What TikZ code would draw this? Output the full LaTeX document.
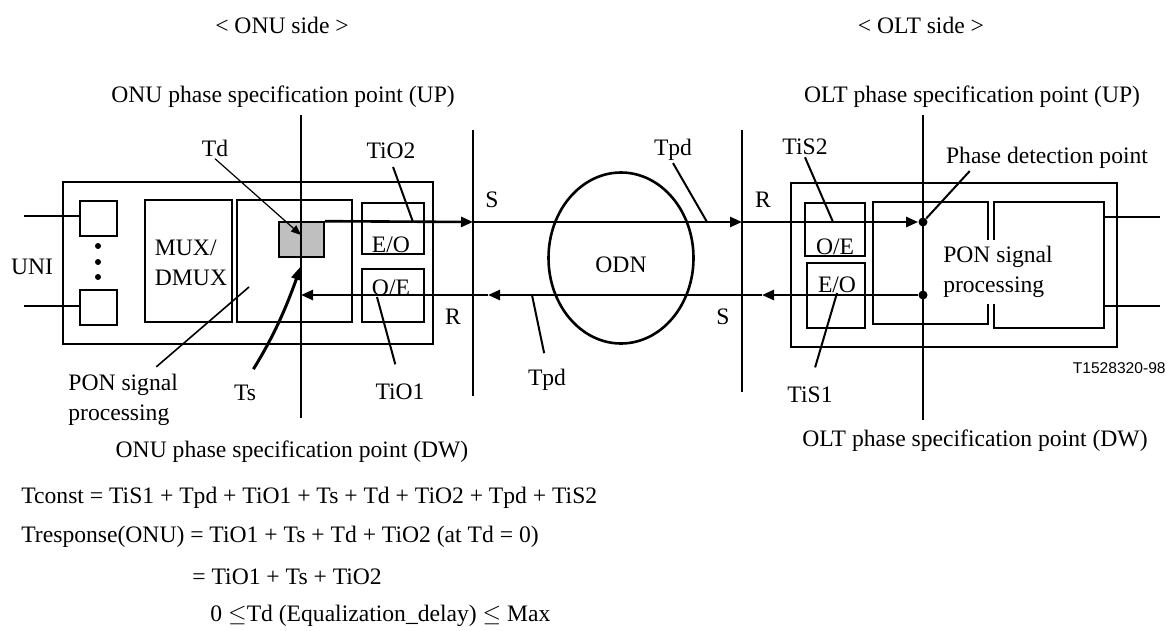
\documentclass[tikz,border=0pt]{standalone}
\usepackage{fontspec}
\setmainfont{Liberation Serif}
\setsansfont{Liberation Sans}
\usetikzlibrary{positioning,fit,calc,arrows.meta,shapes.geometric}

\begin{document}
\begin{tikzpicture}[x=0.5pt, y=-0.5pt,
  font=\fontsize{11.8}{15}\selectfont,
  box/.style={draw, line width=0.8pt, inner sep=0pt},
  axis/.style={line width=1.3pt},
  sig/.style={line width=1.3pt, -{Triangle[length=6pt,width=5pt]}},
  lead/.style={line width=1pt},
  lbl/.style={inner sep=1pt},
  dot/.style={circle, fill, inner sep=0pt, minimum size=4.5pt}
]
\useasboundingbox (0,0) rectangle (1166,631);

\node[lbl] (onuside) at (282,25) {< ONU side >};
\node[lbl] (oltside) at (921,25) {< OLT side >};
\node[lbl] (onuUP) at (283,97) {ONU phase specification point (UP)};
\node[lbl] (oltUP) at (972,97) {OLT phase specification point (UP)};
\node[lbl] (onuDW) at (292,452) {ONU phase specification point (DW)};
\node[lbl] (oltDW) at (975,441) {OLT phase specification point (DW)};

% ONU side
\node[box, fit={(63,182)(433,344)}] (onu) {};
\node[box, fit={(80,201)(117,236)}] (uniA) {};
\node[box, fit={(80,290)(117,325)}] (uniB) {};
\foreach \i/\y in {1/246,2/262,3/277}
  \node[dot, minimum size=3pt] (uniDot\i) at (98,\y) {};
\node[lbl] (uni) at (32,267) {UNI};
\coordinate (uniInA) at (24,216);
\coordinate (uniInB) at (24,306);
\draw[line width=1.1pt] (uniInA) -- (uniA.west |- uniInA);
\draw[line width=1.1pt] (uniInB) -- (uniB.west |- uniInB);
\node[box, fit={(145,200)(232,322)}] (mux) {};
\node[lbl, align=left] (muxtxt) at (191,263) {MUX/\\DMUX};
\node[box, fit={(237,200)(352,322)}] (ponU) {};
\node[box, fill=black!25, fit={(279,222)(324,257)}] (tdbox) {};
\node[box, fit={(362,203)(424,254)}] (eoU) {};
\node[box, fit={(362,269)(424,322)}] (oeU) {};
\node[lbl] (eoUtxt) at (391,245) {E/O};
\node[lbl] (oeUtxt) at (391,288) {O/E};

\coordinate (onuTop) at (301,115);
\coordinate (onuBot) at (301,418);
\draw[axis] (onuTop) -- (onuBot);

% ODN and reference points
\coordinate (sTop) at (473,130);
\coordinate (sBot) at (473,396);
\coordinate (rTop) at (742,130);
\coordinate (rBot) at (742,392);
\draw[axis] (sTop) -- (sBot);
\draw[axis] (rTop) -- (rBot);
\node[draw, ellipse, inner sep=0pt, line width=1.3pt,
      minimum width=72.5pt, minimum height=85.5pt] (odn) at (621,258) {};
\node[lbl] (odntxt) at (621,265) {ODN};
\node[lbl] (sUp) at (492,200) {S};
\node[lbl] (rUp) at (763,200) {R};
\node[lbl] (rDn) at (453,317) {R};
\node[lbl] (sDn) at (723,317) {S};

% OLT side
\node[box, fit={(791,183)(1117,347)}] (olt) {};
\node[box, fit={(805,203)(865,256)}] (oeO) {};
\node[box, fit={(807,263)(865,328)}] (eoO) {};
\node[lbl] (oeOtxt) at (835,247) {O/E};
\node[lbl] (eoOtxt) at (837,285) {E/O};
\node[box, fit={(873,202)(988,324)}] (ponL) {};
\node[box, fit={(994,202)(1104,328)}] (ponR) {};
\node[fill=white, align=left, inner sep=3pt] (ponOtxt) at (998,272) {PON signal\\processing};
\coordinate (oltOutA) at (1160,217);
\coordinate (oltOutB) at (1160,306);
\draw[line width=1.1pt] (ponR.east |- oltOutA) -- (oltOutA);
\draw[line width=1.1pt] (ponR.east |- oltOutB) -- (oltOutB);
\coordinate (oltTop) at (923,115);
\coordinate (oltBot) at (923,420);
\draw[axis] (oltTop) -- (oltBot);
\node[dot] (pdU) at (923,222) {};
\node[dot] (pdD) at (923,295) {};

% signal paths
\coordinate (sU) at (473,222);
\coordinate (rU) at (742,222);
\draw[sig] (tdbox.north east) -- (sU);
\draw[sig] (sU) -- (rU);
\draw[sig] (rU) -- (pdU);
\coordinate (aL1) at (762,295);
\coordinate (aL2) at (488,295);
\coordinate (onuD) at (301,295);
\draw[sig] (pdD) -- (aL1);
\draw[sig] (aL1) -- (aL2);
\draw[sig] (aL2) -- (onuD);

% labels and leaders
\node[lbl] (lblTd) at (215,148) {Td};
\coordinate (tdAt) at (301,235);
\draw[line width=0.6pt, -{Triangle[length=5pt,width=4pt]}] (lblTd.south) -- (tdAt);
\node[lbl] (lblTiOtwo) at (391,151) {TiO2};
\coordinate (tio2At) at (413,222);
\draw[lead, shorten <=3pt] (lblTiOtwo.south) -- (tio2At);
\node[lbl] (lblTpdUp) at (673,150) {Tpd};
\coordinate (tpdUpAt) at (707,222);
\draw[lead] (lblTpdUp.south) -- (tpdUpAt);
\node[lbl] (lblTiStwo) at (805,147) {TiS2};
\coordinate (tis2At) at (833,222);
\draw[lead] (lblTiStwo.south) -- (tis2At);
\node[lbl] (lblPhase) at (1047,158) {Phase detection point};
\draw[lead] ($(lblPhase.south west)+(26,0)$) -- (pdU);

\node[lbl, align=left, anchor=west] (lblPonU) at (66,400) {PON signal\\processing};
\coordinate (ponUAt) at (249,287);
\draw[line width=0.8pt] ($(lblPonU.north east)+(-24,-5)$) -- (ponUAt);
\node[lbl] (lblTs) at (245,393) {Ts};
\coordinate (tsAt) at (301,266);
\draw[line width=1.5pt, shorten <=8pt, -{Triangle[length=7pt,width=5pt]}]
  (lblTs.north) to[bend right=6] (tsAt);
\node[lbl] (lblTiOone) at (400,392) {TiO1};
\coordinate (tio1At) at (377,297);
\draw[lead, shorten <=9pt] (lblTiOone.north) -- (tio1At);
\node[lbl] (lblTpdDn) at (547,380) {Tpd};
\coordinate (tpdDnAt) at (532,295);
\draw[lead, shorten <=7pt] (lblTpdDn.north) -- (tpdDnAt);
\node[lbl] (lblTiSone) at (810,395) {TiS1};
\coordinate (tis1At) at (837,293);
\draw[lead, shorten <=9pt] (lblTiSone.north) -- (tis1At);

\node[font=\fontsize{7.8}{9}\sffamily, anchor=east, inner sep=0pt] (figid) at (1166,368) {T1528320-98};

% delay relations
\node[lbl, anchor=west] (eqConst) at (19,498) {Tconst = TiS1 + Tpd + TiO1 + Ts + Td + TiO2 + Tpd + TiS2};
\node[lbl, anchor=west] (eqResp) at (19,537) {Tresponse(ONU) = TiO1 + Ts + Td + TiO2 (at Td = 0)};
\node[lbl, anchor=west] (eqRespB) at (190,577) {= TiO1 + Ts + TiO2};
\node[lbl, anchor=west] (eqRange) at (208,616) {0 \(\le\)Td (Equalization\_delay) \(\le\) Max};
\end{tikzpicture}
\end{document}
